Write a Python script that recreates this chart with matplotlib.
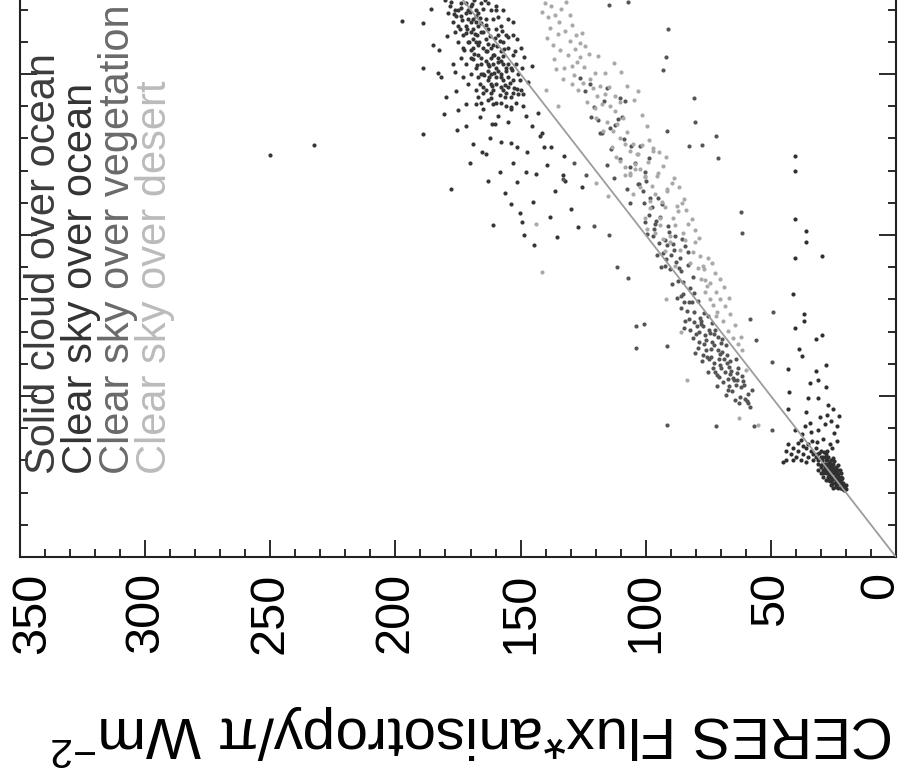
import numpy as np
import matplotlib
matplotlib.use("Agg")
import matplotlib.pyplot as plt
from matplotlib.ticker import MultipleLocator
from matplotlib.transforms import ScaledTranslation

plt.rcParams['font.family'] = ['Liberation Sans', 'DejaVu Sans']
plt.rcParams['mathtext.fontset'] = 'custom'
plt.rcParams['mathtext.rm'] = 'Liberation Sans'
plt.rcParams['mathtext.it'] = 'Liberation Sans:italic'

scene_labels = ["Solid cloud over ocean", "Clear sky over ocean",
                "Clear sky over vegetation", "Clear sky over desert"]
point_colors = ["#363636", "#303030", "#555555", "#a9a9a9"]
label_colors = ["#3c3c3c", "#333333", "#6a6a6a", "#bbbbbb"]

flux_ticks = [0, 50, 100, 150, 200, 250, 300, 350]

# (CERES flux*anisotropy/pi, simulated radiance) pairs, Wm-2
solid_cloud = [
    (165, 158), (162, 155), (168, 160), (160, 152), (170, 163), (158, 150), (164, 161), (167, 156), (161, 159), (172, 165),
    (157, 148), (163, 153), (169, 158), (166, 163), (159, 155), (171, 160), (155, 146), (162, 150), (168, 166), (174, 168),
    (156, 152), (160, 147), (165, 150), (170, 155), (173, 162), (163, 164), (158, 157), (166, 153), (161, 145), (154, 143),
    (167, 149), (175, 165), (171, 170), (164, 167), (159, 162), (153, 148), (168, 152), (162, 158), (157, 153), (169, 161),
    (176, 170), (173, 158), (165, 146), (160, 141), (156, 144), (152, 141), (163, 148), (170, 150), (167, 169), (162, 170),
    (166, 172), (174, 172), (178, 171), (158, 165), (155, 158), (151, 150), (172, 153), (175, 160), (160, 164), (157, 160),
    (169, 167), (164, 145), (154, 139), (158, 141), (150, 145), (168, 145), (177, 166), (161, 167), (152, 153), (171, 147),
    (149, 140), (166, 141), (163, 142), (179, 169), (173, 149), (156, 162), (170, 171), (153, 156), (159, 137), (165, 139),
    (155, 135), (148, 137), (174, 155), (176, 163), (167, 165), (161, 153), (164, 157), (158, 146), (162, 144), (170, 166),
    (172, 172), (168, 170), (160, 170), (155, 167), (177, 174), (153, 162), (180, 173), (150, 158), (157, 170), (163, 172),
    (166, 155), (163, 151), (160, 149), (159, 151), (164, 154), (167, 159), (169, 164), (171, 167), (157, 145), (155, 149),
    (158, 154), (161, 156), (165, 163), (168, 168), (172, 169), (175, 170), (153, 144), (156, 140), (162, 147), (166, 150),
    (163.4, 157.2), (166.8, 159.9), (160.7, 150.3), (168.2, 162.4), (158.9, 153.8), (171.3, 164.1), (164.6, 149.7),
    (157.2, 155.6), (169.7, 157.3), (162.1, 161.8), (155.8, 150.9), (173.5, 166.7), (161.3, 146.2), (166.1, 167.4),
    (159.6, 158.8), (170.4, 169.2), (154.4, 147.3), (167.5, 152.8), (163.9, 165.3), (175.8, 167.9), (152.7, 145.8),
    (158.3, 143.4), (165.2, 144.1), (172.6, 157.6), (160.2, 161.1), (156.7, 157.9), (169.1, 154.6), (174.2, 163.9),
    (162.8, 152.4), (157.9, 149.2), (151.2, 143.7), (164.9, 170.3), (168.8, 173.1), (171.9, 162.7), (159.1, 167.6),
    (154.9, 153.1), (166.4, 146.9), (161.8, 142.6), (176.6, 168.5), (153.6, 151.2), (167.3, 162.1), (163.1, 159.4),
    (160.5, 155.9), (158.4, 160.3), (165.7, 165.8), (170.8, 159.9), (173.9, 170.6), (156.2, 146.7), (162.5, 149.1),
    (168.6, 156.2), (157.6, 163.3), (155.1, 161.4), (152.3, 157.2), (150.4, 148.1), (149.2, 143.9), (177.8, 172.4),
    (174.7, 174.6), (169.4, 171.8), (164.2, 172.9), (159.8, 171.2),
    (185.6, 170.2), (189.0, 165.8), (184.8, 159.1), (182.8, 150.2), (181.7, 149.1), (189.0, 151.9), (180.7, 137.6),
    (179.7, 142.9), (175.6, 144.6), (175.1, 138.7), (171.7, 133.8), (166.3, 136.8), (165.5, 125.7), (164.0, 125.1),
    (163.2, 116.8), (162.4, 130.1), (161.4, 134.6), (160.1, 134.6), (157.8, 129.0), (153.9, 128.5), (153.2, 122.4),
    (151.6, 127.4), (153.9, 109.6), (150.1, 106.8), (149.3, 104.0), (148.5, 100.1), (147.8, 119.6), (143.9, 118.8),
    (145.5, 134.0), (142.4, 130.7), (141.6, 131.8), (140.8, 127.4), (137.7, 127.4), (135.4, 99.5), (133.1, 118.5),
    (132.3, 116.8), (177.9, 114.2), (189.0, 131.5), (197.2, 166.5), (232.7, 128.1), (250.0, 125.0),
    (179.4, 161.9), (182.5, 157.4), (177.1, 153.0), (176.3, 150.7), (171.7, 140.7), (167.8, 140.7), (167.1, 142.9),
    (160.9, 140.7), (156.3, 142.9), (153.9, 139.6), (151.6, 145.2), (149.3, 151.9), (148.5, 155.2), (145.5, 152.4),
    (147.0, 147.4), (153.9, 151.9), (151.6, 160.8), (153.2, 166.3),
    (158.4, 119.7), (145.2, 110.3), (139.6, 121.8), (156.1, 112.9), (168.9, 128.2), (147.3, 125.9), (129.8, 108.2),
    (136.2, 113.6), (151.4, 116.5), (143.1, 137.9), (138.4, 105.7), (127.2, 102.6), (160.9, 103.2), (144.6, 96.8),
    (175.2, 132.6), (170.1, 122.3), (125.3, 114.9), (132.7, 124.6),
]

clear_ocean = [
    (22, 22), (23, 23), (24, 24), (25, 25), (26, 26), (27, 27), (21, 23), (23, 25), (25, 27), (27, 29),
    (24, 22), (26, 24), (28, 26), (22, 24), (24, 26), (26, 28), (28, 30), (25, 23), (27, 25), (29, 27),
    (21, 21), (23, 21.5), (20, 21), (22.5, 23), (24.5, 25), (26.5, 27), (28.5, 29), (30, 31), (29, 31), (27, 31),
    (25, 29), (23, 27), (22, 26), (24, 28), (26, 30), (28, 32), (30, 33), (26, 22.5), (28, 24), (30, 28),
    (31, 30), (29, 25), (25, 21.5), (21, 22), (20, 22.5), (23, 24), (25, 26), (27, 28), (29, 29), (24, 23),
    (26, 25), (28, 27), (22, 25), (24, 27), (26, 29), (28, 31), (27, 24), (29, 26), (31, 29), (20.5, 21.5),
    (22, 21.5), (24, 21.8), (26.5, 23.5), (23.5, 26.5), (25.5, 28.5), (27.5, 30.5), (21.5, 24.5), (30, 26), (31, 27), (32, 31),
    (22.7, 22.9), (24.3, 24.6), (25.8, 26.3), (23.6, 22.8), (26.9, 25.4), (21.4, 22.4), (27.8, 28.7), (24.9, 27.7),
    (22.2, 23.6), (29.4, 30.2), (25.2, 24.1), (23.1, 25.8), (26.2, 27.3), (28.3, 28.1), (20.9, 20.8), (24.1, 25.2),
    (27.1, 26.4), (25.6, 22.6), (22.8, 24.3), (30.6, 32.4), (21.8, 21.3), (26.7, 29.4), (28.9, 32.6), (24.6, 29.8),
    (23.3, 28.7), (29.8, 28.6), (31.4, 31.9), (27.4, 32.9), (25.3, 30.9), (22.4, 27.1),
    (26.4, 35.2), (29.1, 36.8), (24.8, 38.4), (31.7, 35.6), (28.2, 41.3), (33.9, 38.9), (27.6, 44.2), (30.4, 43.5),
    (36.2, 40.7), (25.5, 33.8), (23.7, 35.9), (38.1, 36.4),
    (33, 30), (35, 31), (37, 32), (39, 33), (41, 34), (43, 35), (34, 33), (36, 34), (38, 30), (40, 31),
    (42, 32), (44, 33), (32, 34), (36, 29.5), (39, 35.5), (41, 30), (35, 35), (33, 32), (37, 34.5), (44, 30),
    (40.2, 124.4), (40.2, 119.9), (40.2, 105.1), (36.1, 101.2), (36.1, 97.9), (40.2, 92.9), (29.7, 93.4),
    (41.1, 81.7), (36.6, 75.6), (36.6, 73.4), (40.2, 71.2), (32.0, 67.8), (29.7, 68.9), (38.9, 64.5),
    (37.4, 62.3), (32.0, 57.8), (28.1, 59.5), (43.2, 58.4), (42.8, 51.1), (43.2, 46.1), (45.1, 29.4),
    (34.3, 53.9), (31.2, 55.0), (35.1, 49.5), (31.2, 49.5), (28.1, 52.8), (25.0, 46.1), (22.7, 43.9),
    (35.8, 45.0), (34.3, 41.7), (31.2, 39.4), (27.3, 47.2), (25.8, 42.2), (23.5, 40.6), (40.5, 39.4),
    (37.4, 38.3), (33.5, 36.1),
]

clear_vegetation = [
    (71.3, 64.2), (69.8, 58.7), (73.6, 66.9), (67.4, 62.8), (75.9, 67.3), (65.2, 55.6), (77.8, 73.4), (63.7, 57.1),
    (79.6, 71.8), (61.9, 52.7), (72.8, 60.3), (70.5, 62.9), (74.7, 61.5), (68.3, 57.4), (76.4, 68.8), (66.6, 53.2),
    (78.9, 66.7), (64.8, 54.9), (80.7, 76.2), (62.5, 49.8), (70.1, 66.4), (67.9, 65.9), (72.4, 70.6), (74.3, 69.5),
    (66.2, 60.8), (76.8, 75.7), (64.1, 61.4), (78.3, 74.1), (61.6, 56.2), (81.4, 79.3), (71.7, 56.6), (75.2, 57.3),
    (69.2, 54.4), (73.1, 58.7), (77.2, 62.6), (67.1, 51.9), (79.3, 64.8), (65.6, 51.6), (60.8, 53.3), (59.7, 48.4),
    (74.1, 64.6), (70.3, 59.7), (66.8, 58.9), (72.2, 57.6), (76.1, 64.4), (78.6, 69.8), (82.3, 70.6), (83.4, 76.5),
    (84.2, 73.4), (85.3, 81.8), (67.6, 60.1), (63.2, 58.6), (69.4, 63.7), (71.1, 68.3), (73.5, 72.8), (75.6, 62.2),
    (77.4, 60.9), (59.3, 50.6), (58.2, 46.7), (81.2, 67.9), (68.8, 61.6), (72.9, 65.9), (70.7, 61.5), (74.9, 70.6),
    (66.4, 56.8), (63.9, 53.3), (79.8, 69.1), (82.8, 73.9), (61.2, 54.7), (57.6, 51.8), (64.5, 48.8), (68.1, 50.3),
    (62.7, 47.9), (71.6, 53.2), (80.2, 63.4), (84.7, 71.2), (86.1, 77.3), (77.1, 71.6), (75.3, 74.9), (69.6, 67.8),
    (73.8, 62.1), (65.9, 57.7), (60.3, 49.2), (76.7, 66.1), (70.9, 55.8), (67.3, 55.3), (78.1, 72.4), (63.4, 55.1),
    (72.6, 69.4), (80.9, 72.9),
    (82.4, 83.6), (85.2, 85.3), (87.9, 91.7), (90.3, 89.4), (86.1, 88.8), (84.6, 79.2), (87.3, 85.7), (89.4, 84.8),
    (91.6, 96.9), (93.2, 94.3), (80.7, 82.1), (83.3, 90.6), (86.5, 92.8), (88.2, 99.6), (92.4, 98.3), (94.1, 105.7),
    (96.3, 103.4), (98.2, 111.6), (90.6, 100.8), (84.2, 96.7), (95.4, 93.8), (97.1, 99.7), (99.3, 100.4), (100.6, 109.9),
    (87.6, 80.4), (92.1, 90.3), (94.7, 97.6), (96.8, 101.8), (81.3, 86.9), (79.2, 79.6), (93.6, 109.7), (91.2, 102.8),
    (89.1, 97.3), (97.4, 108.6), (99.8, 116.9), (101.2, 113.7), (102.6, 115.8), (95.2, 111.6), (85.4, 98.7), (83.1, 94.8),
    (88.8, 95.2), (91.9, 92.6), (85.9, 81.1), (95.8, 104.4), (98.7, 106.3), (82.9, 79.2), (89.7, 93.8), (93.9, 90.2),
    (86.8, 89.9), (100.1, 104.1),
    (104.3, 122.4), (106.2, 121.1), (108.6, 129.8), (110.4, 123.6), (112.3, 134.2), (114.1, 133.3), (116.5, 141.7),
    (118.2, 131.8), (120.6, 139.9), (122.3, 146.8), (105.7, 127.6), (109.4, 136.7), (111.2, 135.9), (113.8, 126.7),
    (115.3, 121.6), (117.4, 131.8), (119.1, 135.6), (121.7, 136.6), (103.2, 115.8), (107.6, 114.2), (100.4, 119.7),
    (98.6, 123.8), (102.1, 127.7), (110.3, 142.6), (115.6, 145.8), (108.2, 141.6), (124.4, 144.7), (126.3, 148.8),
    (112.6, 117.7), (106.4, 109.8),
    (62, 107), (61.5, 100.7), (58.2, 73.9), (55.9, 67.3), (49, 76.2), (49.7, 60.6), (59, 47.8), (56.7, 40.6),
    (49.7, 39.4), (72.1, 40.6), (91.4, 41.1), (103.8, 71.7), (100.7, 72.3), (103.8, 65), (91.4, 65.6),
    (120.8, 102.9), (111.5, 90), (106.9, 86.7), (114.6, 100.1), (128.5, 122.4), (123.8, 118.5), (133.1, 117.4),
    (80.9, 142.7), (80.3, 135.2), (72.1, 130.7), (71.3, 124), (77.5, 127.9), (82.8, 127.6), (91.4, 132.4),
    (91.1, 164.1), (91.7, 155.2), (93, 151.3), (114.6, 171.3), (106.9, 172.5),
]

clear_desert = [
    (130.4, 160.2), (132.3, 163.4), (134.6, 166.1), (128.2, 157.7), (136.3, 168.4), (131.1, 155.8), (133.7, 170.3),
    (135.2, 162.4), (129.6, 165.3), (127.4, 153.6), (137.8, 171.2), (138.3, 164.2), (126.1, 159.6), (130.2, 168.3),
    (132.6, 151.9), (134.4, 157.6), (136.7, 154.8), (128.8, 149.7), (139.1, 167.6), (140.4, 172.2), (125.3, 162.8),
    (131.8, 172.4), (133.2, 148.6), (135.8, 151.7), (129.3, 146.8), (137.2, 159.1), (141.3, 169.4), (127.9, 162.1),
    (133.9, 174.2), (139.6, 161.3),
    (120.3, 150.2), (118.4, 146.3), (116.2, 143.8), (122.1, 148.4), (124.5, 152.3), (114.3, 140.2), (112.1, 138.4),
    (117.3, 140.6), (119.4, 143.1), (121.2, 145.5), (115.6, 135.2), (113.2, 132.3), (111.4, 134.4), (110.3, 130.1),
    (108.2, 128.3), (106.3, 126.2), (109.1, 136.4), (107.5, 132.1), (105.2, 128.2), (103.4, 125.3), (125.1, 147.3),
    (123.4, 141.2), (119.7, 136.4), (117.1, 132.2), (113.4, 127.3), (111.8, 124.2), (116.3, 150.4), (114.5, 146.1),
    (112.3, 143.2), (110.1, 141.4), (104.2, 122.1), (102.3, 120.4), (100.2, 118.3), (108.4, 121.2), (106.1, 118.6),
    (126.4, 155.2), (122.6, 156.3), (127.2, 145.1), (129.3, 152.4), (120.1, 139.3), (101.6, 137.2), (99.4, 133.8),
    (104.8, 141.9), (107.3, 146.2), (103.1, 144.7), (98.7, 129.4), (109.7, 150.6), (118.9, 155.7), (112.8, 153.4),
    (124.2, 158.6),
    (100.3, 117.9), (98.1, 110.6), (96.4, 112.8), (94.2, 105.3), (92.3, 108.7), (90.4, 99.6), (88.2, 103.1),
    (86.3, 95.4), (84.4, 98.6), (82.2, 91.2), (99.2, 122.7), (97.3, 115.1), (95.1, 119.4), (93.4, 110.2),
    (91.3, 113.6), (89.2, 105.4), (87.4, 108.9), (85.1, 100.7), (83.2, 103.5), (81.3, 94.6), (102.1, 114.9),
    (100.4, 105.2), (98.3, 108.4), (96.2, 100.6), (94.1, 103.2), (92.4, 95.1), (90.2, 97.9), (88.3, 90.4),
    (104.4, 120.6), (106.2, 119.3), (101.3, 127.8), (103.2, 125.1), (97.1, 126.2), (95.3, 118.2), (93.2, 121.3),
    (91.4, 114.4), (89.3, 116.1), (87.1, 107.3), (85.4, 109.8), (80.2, 97.7), (79.1, 89.9), (78.3, 93.4),
    (77.2, 90.3), (76.4, 86.1), (75.1, 92.8), (108.3, 118.7), (110.2, 122.9), (105.1, 112.6), (99.4, 101.8),
    (93.1, 98.7), (88.7, 117.6), (84.9, 111.3), (81.7, 104.9), (91.8, 124.3), (86.6, 114.8), (78.6, 99.1),
    (83.8, 107.8), (96.9, 127.1), (80.5, 101.6), (94.6, 125.7),
    (74.2, 85.1), (72.1, 82.3), (70.3, 80.2), (68.4, 78.1), (66.2, 75.4), (73.1, 78.2), (71.4, 76.1), (69.2, 73.3),
    (67.1, 70.2), (65.3, 68.1), (76.2, 82.4), (78.1, 86.3), (74.4, 80.1), (64.3, 72.2), (62.1, 68.3), (70.2, 86.4),
    (72.3, 88.1), (75.4, 84.2), (63.2, 66.1), (61.4, 64.3), (68.9, 83.7), (66.7, 80.4), (73.7, 91.2), (71.8, 74.8),
    (76.9, 89.5),
    (141.6, 88.4), (83.7, 55), (62.9, 43.3), (55.1, 41.1), (143.9, 103.4), (120, 116), (135, 140), (140, 145),
    (86, 70), (92, 80), (115, 112), (60, 58),
]

series = [solid_cloud, clear_ocean, clear_vegetation, clear_desert]

fig = plt.figure(figsize=(9.06, 7.82), dpi=100)
# the plot frame runs past the top and right edges of the canvas
ax = fig.add_axes([20 / 906, 225 / 782, 876 / 906, 1127 / 782])

for pts, col in zip(series, point_colors):
    arr = np.array(pts, dtype=float)
    ax.scatter(arr[:, 0], arr[:, 1], s=9, c=col, linewidths=0, zorder=2)

# one-to-one reference line
ax.plot([0, 350], [0, 350], color="#9c9c9c", lw=1.3, zorder=3)

ax.set_xlim(350, 0)
ax.set_ylim(0, 350)
ax.set_xticks(flux_ticks)
ax.set_xticklabels([str(t) for t in flux_ticks])
ax.xaxis.set_minor_locator(MultipleLocator(10))
ax.yaxis.set_major_locator(MultipleLocator(50))
ax.yaxis.set_minor_locator(MultipleLocator(10))
ax.tick_params(which='both', direction='in', top=True, right=True,
               labelleft=False, color='#2a2a2a')
ax.tick_params(which='major', length=12, width=1.4)
ax.tick_params(which='minor', length=6, width=1.4)
ax.tick_params(axis='x', labelsize=35, labelrotation=90, pad=11)
for sp in ax.spines.values():
    sp.set_linewidth(1.5)
    sp.set_color('#222222')

# keep the two end labels inside the canvas
tick_labels = ax.get_xticklabels()
tick_labels[0].set_transform(tick_labels[0].get_transform()
                             + ScaledTranslation(-0.15, 0, fig.dpi_scale_trans))
tick_labels[-1].set_transform(tick_labels[-1].get_transform()
                              + ScaledTranslation(0.13, 0, fig.dpi_scale_trans))

ax.set_xlabel("CERES Flux*anisotropy/π Wm$^{-2}$", fontsize=42, rotation=180)
ax.xaxis.label.set_va('center')
ax.xaxis.set_label_coords(0.516, -0.158)

# scene-type key written up the left side
key_x = [44, 81, 118, 155]
for lab, col, xp in zip(scene_labels, label_colors, key_x):
    fig.text(xp / 906, 1 - 474 / 782, lab, rotation=90, ha='center', va='bottom',
             fontsize=30, color=col)

fig.savefig("out.png", dpi=100)
